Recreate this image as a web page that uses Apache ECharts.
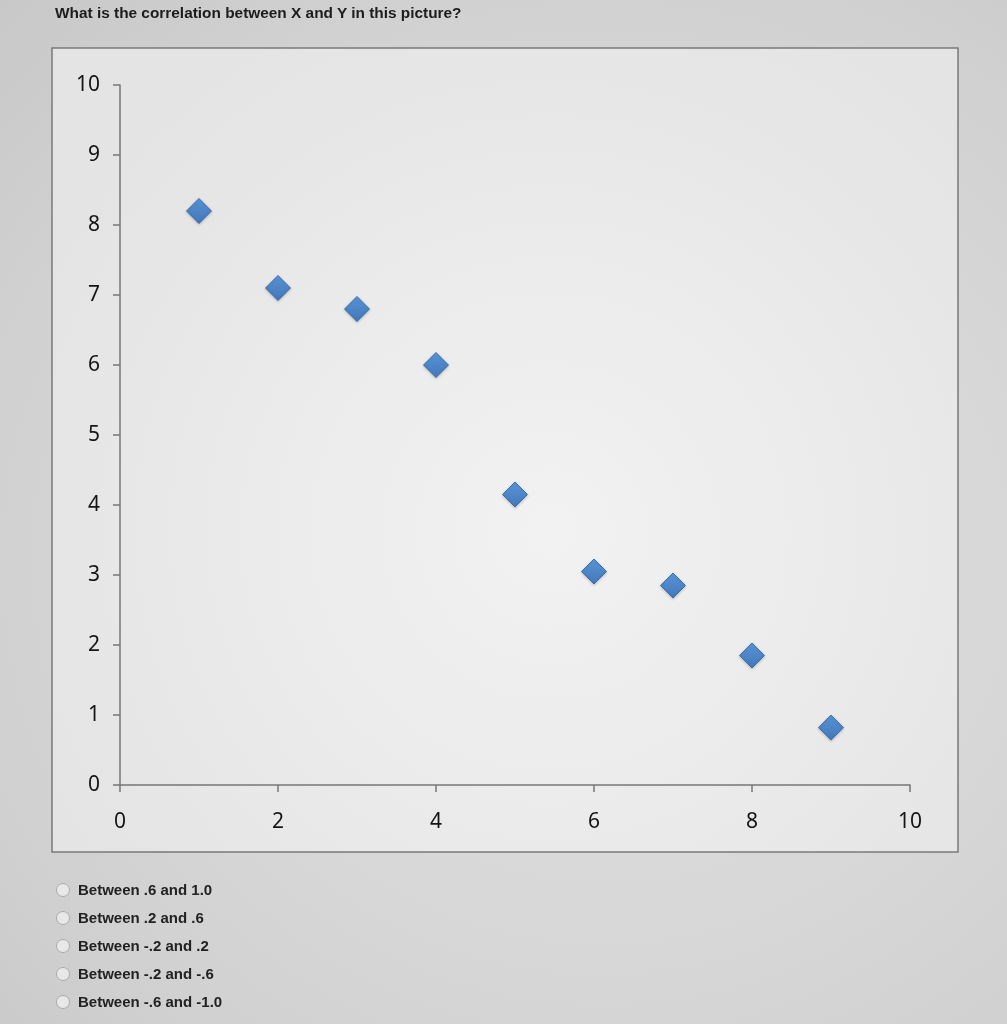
<!DOCTYPE html>
<html>
<head>
<meta charset="utf-8">
<script src="https://cdn.jsdelivr.net/npm/echarts@6/dist/echarts.min.js"></script>
<style>
  html, body { margin: 0; padding: 0; background: #d4d4d4; }
  #page { position: relative; width: 1007px; height: 1024px; overflow: hidden;
    background: radial-gradient(ellipse at 60% 55%, #e2e2e2 0%, #d2d2d2 70%, #c8c8c8 100%); }
  #chart { position: absolute; left: 0; top: 0; width: 1007px; height: 1024px; }
  .q { position: absolute; left: 55px; top: 4px; font: bold 15.4px "Liberation Sans", Arial, sans-serif; color: #1c1c1c; }
  .opts { position: absolute; left: 55px; top: 881px; font: bold 15px "Liberation Sans", Arial, sans-serif; color: #222; }
  .opts div { height: 28px; line-height: 18px; position: relative; padding-left: 23px; }
  .opts div:before { content: ""; position: absolute; left: 1px; top: 2px; width: 12px; height: 12px;
    border-radius: 50%; border: 1px solid #aaa; background: #e8e8e8; }
</style>
</head>
<body>
<div id="page">
  <div id="chart"></div>
  <div class="q">What is the correlation between X and Y in this picture?</div>
  <div class="opts" id="opts"></div>
</div>
<script>
  var xValues = [1, 2, 3, 4, 5, 6, 7, 8, 9];
  var yValues = [8.2, 7.1, 6.8, 6.0, 4.15, 3.05, 2.85, 1.85, 0.82];
  var choices = ['Between .6 and 1.0', 'Between .2 and .6', 'Between -.2 and .2',
    'Between -.2 and -.6', 'Between -.6 and -1.0'];

  var opts = document.getElementById('opts');
  choices.forEach(function(c){
    var d = document.createElement('div');
    d.textContent = c;
    opts.appendChild(d);
  });

  var points = xValues.map(function(x, i){ return [x, yValues[i]]; });
  var chart = echarts.init(document.getElementById('chart'));
  var axisText = { fontFamily: 'Noto Sans', fontSize: 21, color: '#151515' };

  chart.setOption({
    animation: false,
    graphic: [{
      type: 'rect', z: -10,
      shape: { x: 52, y: 48, width: 906, height: 804 },
      style: {
        fill: new echarts.graphic.RadialGradient(0.55, 0.6, 0.7, [
          { offset: 0, color: '#f2f2f2' }, { offset: 1, color: '#e4e4e4' }
        ]),
        stroke: '#7a7a7a', lineWidth: 1.5
      }
    }],
    grid: { left: 120, top: 85, right: 97, bottom: 239 },
    xAxis: {
      type: 'value', min: 0, max: 10, interval: 2,
      axisLine: { lineStyle: { color: '#777', width: 1.5 } },
      axisTick: { length: 7, lineStyle: { color: '#777', width: 1.5 } },
      splitLine: { show: false },
      axisLabel: Object.assign({ margin: 27 }, axisText)
    },
    yAxis: {
      type: 'value', min: 0, max: 10, interval: 1,
      axisLine: { show: true, lineStyle: { color: '#777', width: 1.5 } },
      axisTick: { show: true, length: 7, lineStyle: { color: '#777', width: 1.5 } },
      splitLine: { show: false },
      axisLabel: Object.assign({ margin: 20 }, axisText)
    },
    series: [{
      type: 'scatter',
      data: points,
      symbol: 'diamond',
      symbolSize: [25, 25],
      itemStyle: {
        color: new echarts.graphic.LinearGradient(0, 0, 0, 1, [
          { offset: 0, color: '#3f8ade' }, { offset: 1, color: '#2566b8' }
        ]),
        borderColor: '#225fa6', borderWidth: 1,
        shadowColor: 'rgba(0,0,0,0.25)', shadowBlur: 3, shadowOffsetY: 1
      }
    }]
  });
</script>
</body>
</html>
